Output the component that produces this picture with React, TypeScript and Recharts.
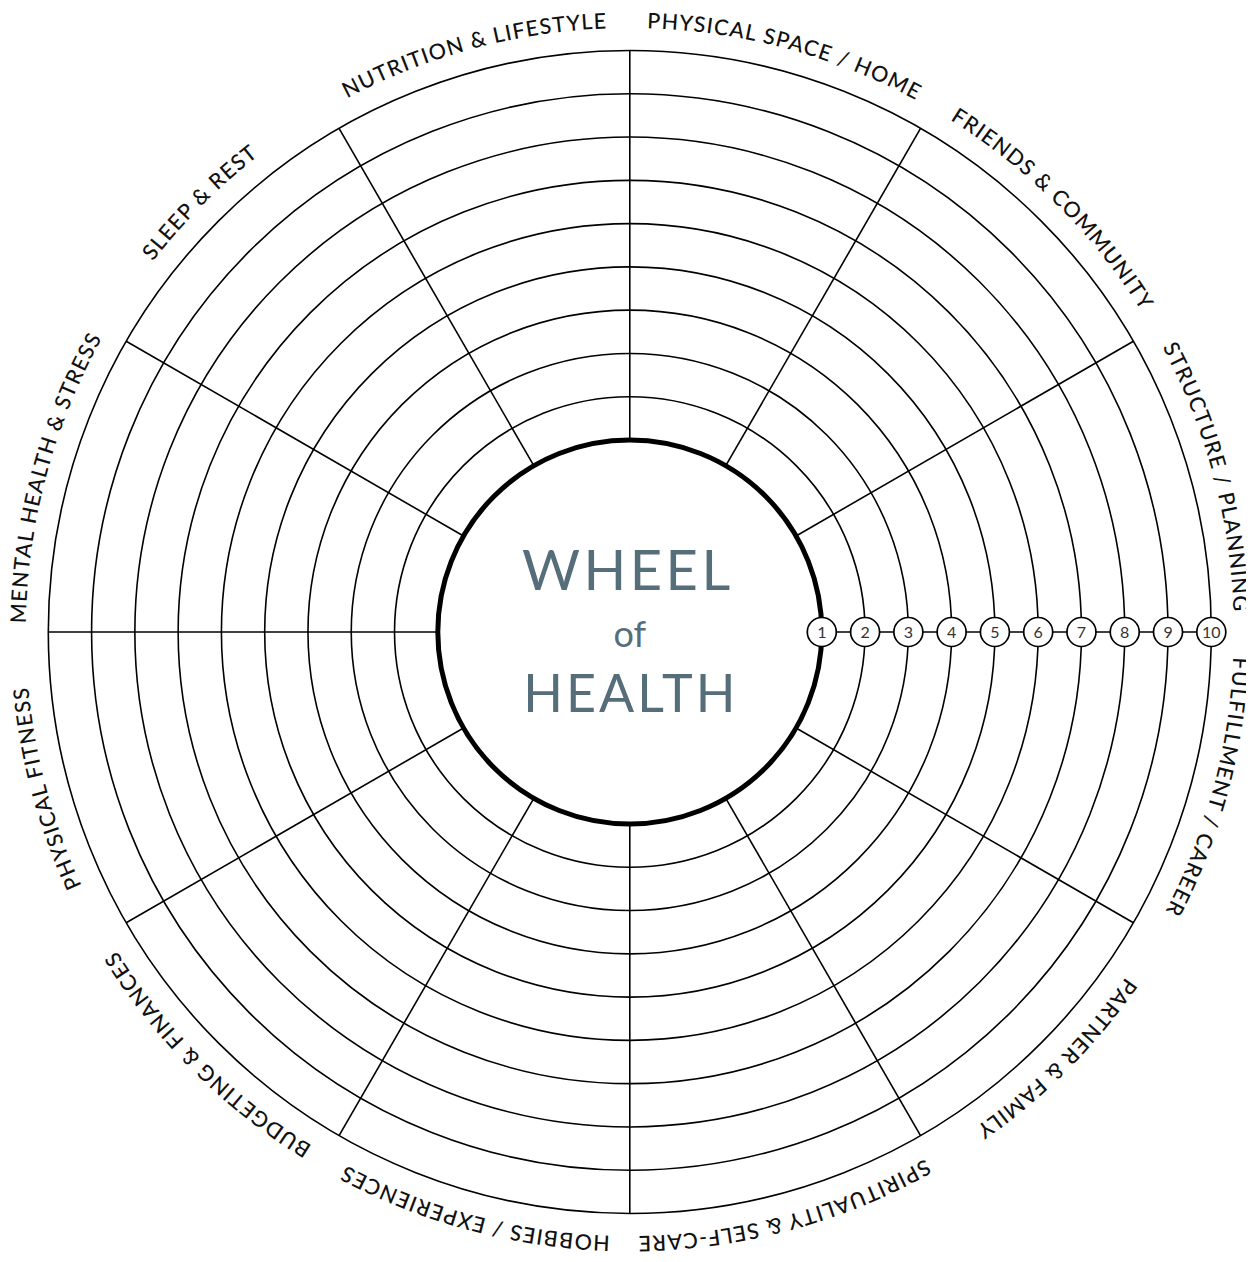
import React from 'react';
import { RadarChart, PolarGrid, PolarAngleAxis, PolarRadiusAxis, Customized } from 'recharts';

// ---- data ----
const categories = [
  'PHYSICAL SPACE / HOME',
  'FRIENDS & COMMUNITY',
  'STRUCTURE / PLANNING',
  'FULFILLMENT / CAREER',
  'PARTNER & FAMILY',
  'SPIRITUALITY & SELF-CARE',
  'HOBBIES / EXPERIENCES',
  'BUDGETING & FINANCES',
  'PHYSICAL FITNESS',
  'MENTAL HEALTH & STRESS',
  'SLEEP & REST',
  'NUTRITION & LIFESTYLE',
];
const scoreTicks = [1, 2, 3, 4, 5, 6, 7, 8, 9, 10];
const titleLines = ['WHEEL', 'of', 'HEALTH'];

const chartData = categories.map((name, idx) => ({ name, idx, level: scoreTicks[idx % scoreTicks.length] }));
const spokeTicks = categories.map((_, i) => i);
const labelTicks = categories.map((_, i) => i + 0.5);

// ---- layout ----
const W = 1238;
const H = 1246;
const CX = 621.8;
const CY = 624;
const INNER = 192;
const OUTER = 581.5;
const FONT = 'Lato, "Open Sans", sans-serif';

function CurvedLabel(props: any) {
  const { x, y, payload } = props;
  const cx = props.cx ?? CX;
  const cy = props.cy ?? CY;
  const r = Math.hypot(x - cx, y - cy);
  const a = payload.coordinate;
  const pt = (deg: number) => {
    const rad = (-deg * Math.PI) / 180;
    return [cx + r * Math.cos(rad), cy + r * Math.sin(rad)];
  };
  const [sx, sy] = pt(a + 180);
  const [mx, my] = pt(a);
  const d = `M ${sx} ${sy} A ${r} ${r} 0 1 1 ${mx} ${my} A ${r} ${r} 0 1 1 ${sx} ${sy}`;
  const id = `lblpath-${props.index}`;
  const text = categories[Math.floor(payload.value)];
  return (
    <g>
      <defs>
        <path id={id} d={d} fill="none" />
      </defs>
      <text fontFamily={FONT} fontWeight={500} fontSize={21.5} fill="#111" letterSpacing={1.2}>
        <textPath href={`#${id}`} startOffset="50%" textAnchor="middle">
          {text}
        </textPath>
      </text>
    </g>
  );
}

function NumberTick(props: any) {
  const { x, y, payload } = props;
  return (
    <g>
      <circle cx={x} cy={y} r={14.5} fill="#fff" stroke="#000" strokeWidth={1.7} />
      <text x={x} y={y} dy={5.8} textAnchor="middle" fontFamily={FONT} fontSize={16} fill="#333">
        {String(payload.value)}
      </text>
    </g>
  );
}

function CenterTitle(props: any) {
  const { cx, cy } = props;
  const color = '#566d7a';
  return (
    <g fontFamily={FONT} fontWeight={400} fill={color} textAnchor="middle">
      <text x={cx - 2} y={cy - 42} fontSize={56} letterSpacing={3.5}>{titleLines[0]}</text>
      <text x={cx} y={cy + 15} fontSize={36}>{titleLines[1]}</text>
      <text x={cx + 1} y={cy + 80} fontSize={52} letterSpacing={3}>{titleLines[2]}</text>
    </g>
  );
}

export default function App() {
  return (
    <div style={{ width: W, height: H, background: '#fff' }}>
      <RadarChart
        width={W}
        height={H}
        data={chartData}
        cx={CX}
        cy={CY}
        innerRadius={INNER}
        outerRadius={OUTER}
        startAngle={90}
        endAngle={-270}
        margin={{ top: 0, right: 0, bottom: 0, left: 0 }}
      >
        <PolarAngleAxis
          angleAxisId={0}
          type="number"
          dataKey="idx"
          domain={[0, 12]}
          allowDataOverflow
          ticks={spokeTicks}
          tick={false}
          tickLine={false}
          axisLine={false}
        />
        <PolarAngleAxis
          angleAxisId="labels"
          type="number"
          dataKey="idx"
          domain={[0, 12]}
          allowDataOverflow
          ticks={labelTicks}
          tick={CurvedLabel}
          tickLine={false}
          axisLine={false}
          tickSize={22.5}
        />
        <PolarRadiusAxis
          radiusAxisId={0}
          type="number"
          dataKey="level"
          angle={0}
          domain={[1, 10]}
          allowDataOverflow
          ticks={scoreTicks}
          tick={NumberTick}
          axisLine={false}
        />
        <PolarRadiusAxis
          radiusAxisId="inner"
          type="number"
          dataKey="level"
          domain={[1, 10]}
          allowDataOverflow
          ticks={[1]}
          tick={false}
          axisLine={false}
        />
        <PolarGrid gridType="circle" angleAxisId={0} radiusAxisId={0} stroke="#000" strokeWidth={1.6} />
        <PolarGrid gridType="circle" radialLines={false} angleAxisId={0} radiusAxisId="inner" stroke="#000" strokeWidth={5} />
        <Customized component={<CenterTitle cx={CX} cy={CY} />} />
      </RadarChart>
    </div>
  );
}
